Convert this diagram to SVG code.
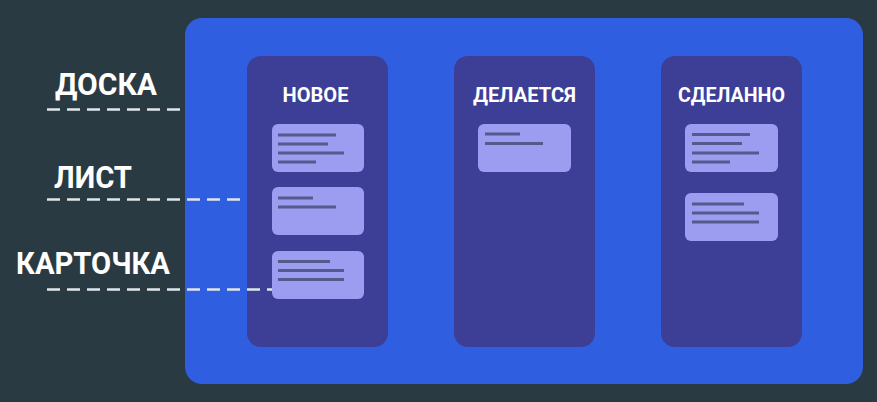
<svg xmlns="http://www.w3.org/2000/svg" width="877" height="402" viewBox="0 0 877 402">
<style>
.col{fill:#3d3e95}
.card{fill:#9c9df1}
.ln{stroke:#555a8c;stroke-width:3;stroke-linecap:butt}
.title{font-family:Roboto,"Liberation Sans",sans-serif;font-weight:bold;font-size:20px;fill:#ffffff;text-anchor:middle}
.lbl{font-family:Roboto,"Liberation Sans",sans-serif;font-weight:bold;font-size:31px;fill:#ffffff}
.dash{stroke:#dfe6ea;stroke-width:2.5;stroke-dasharray:13 7;fill:none}
</style>
<rect width="877" height="402" fill="#2a3a42"/>
<g id="board">
<rect x="185" y="18" width="678" height="366" rx="17" fill="#2f5fe0"/>
</g>
<g id="col-new">
<rect class="col" x="247" y="56" width="141" height="291" rx="14"/>
<text class="title" x="315.5" y="101.5" textLength="66" lengthAdjust="spacingAndGlyphs">НОВОЕ</text>
</g>
<g id="col-doing">
<rect class="col" x="454" y="56" width="141" height="291" rx="14"/>
<text class="title" x="524.5" y="101.5" textLength="103" lengthAdjust="spacingAndGlyphs">ДЕЛАЕТСЯ</text>
</g>
<g id="col-done">
<rect class="col" x="661" y="56" width="141" height="291" rx="14"/>
<text class="title" x="731.5" y="101.5" textLength="107" lengthAdjust="spacingAndGlyphs">СДЕЛАННО</text>
</g>
<g id="connectors">
<line class="dash" x1="47" y1="109.5" x2="180" y2="109.5"/>
<line class="dash" x1="47" y1="199.5" x2="240" y2="199.5"/>
<line class="dash" x1="47" y1="289.5" x2="272" y2="289.5"/>
</g>
<g id="card-new-1">
<rect class="card" x="272" y="124" width="92" height="48" rx="6"/>
<line class="ln" x1="278" y1="135" x2="336" y2="135"/>
<line class="ln" x1="278" y1="144" x2="328" y2="144"/>
<line class="ln" x1="278" y1="153" x2="344" y2="153"/>
<line class="ln" x1="278" y1="162" x2="316" y2="162"/>
</g>
<g id="card-new-2">
<rect class="card" x="272" y="187" width="92" height="48" rx="6"/>
<line class="ln" x1="278" y1="198" x2="313" y2="198"/>
<line class="ln" x1="278" y1="207" x2="336" y2="207"/>
</g>
<g id="card-new-3">
<rect class="card" x="272" y="251" width="92" height="48" rx="6"/>
<line class="ln" x1="278" y1="261.5" x2="330" y2="261.5"/>
<line class="ln" x1="278" y1="270.5" x2="344" y2="270.5"/>
<line class="ln" x1="278" y1="279.5" x2="344" y2="279.5"/>
</g>
<g id="card-doing-1">
<rect class="card" x="478" y="124" width="93" height="48" rx="6"/>
<line class="ln" x1="485" y1="134" x2="520" y2="134"/>
<line class="ln" x1="485" y1="143.5" x2="543" y2="143.5"/>
</g>
<g id="card-done-1">
<rect class="card" x="685" y="124" width="93" height="48" rx="6"/>
<line class="ln" x1="692" y1="134.5" x2="750" y2="134.5"/>
<line class="ln" x1="692" y1="143.5" x2="742" y2="143.5"/>
<line class="ln" x1="692" y1="153" x2="759" y2="153"/>
<line class="ln" x1="692" y1="162" x2="730" y2="162"/>
</g>
<g id="card-done-2">
<rect class="card" x="685" y="193" width="93" height="48" rx="6"/>
<line class="ln" x1="692" y1="204" x2="744" y2="204"/>
<line class="ln" x1="692" y1="213" x2="759" y2="213"/>
<line class="ln" x1="692" y1="222" x2="759" y2="222"/>
</g>
<g id="labels">
<text class="lbl" x="55" y="95" textLength="102" lengthAdjust="spacingAndGlyphs">ДОСКА</text>
<text class="lbl" x="54" y="188" textLength="78" lengthAdjust="spacingAndGlyphs">ЛИСТ</text>
<text class="lbl" x="16" y="274" textLength="154" lengthAdjust="spacingAndGlyphs">КАРТОЧКА</text>
</g>
</svg>
